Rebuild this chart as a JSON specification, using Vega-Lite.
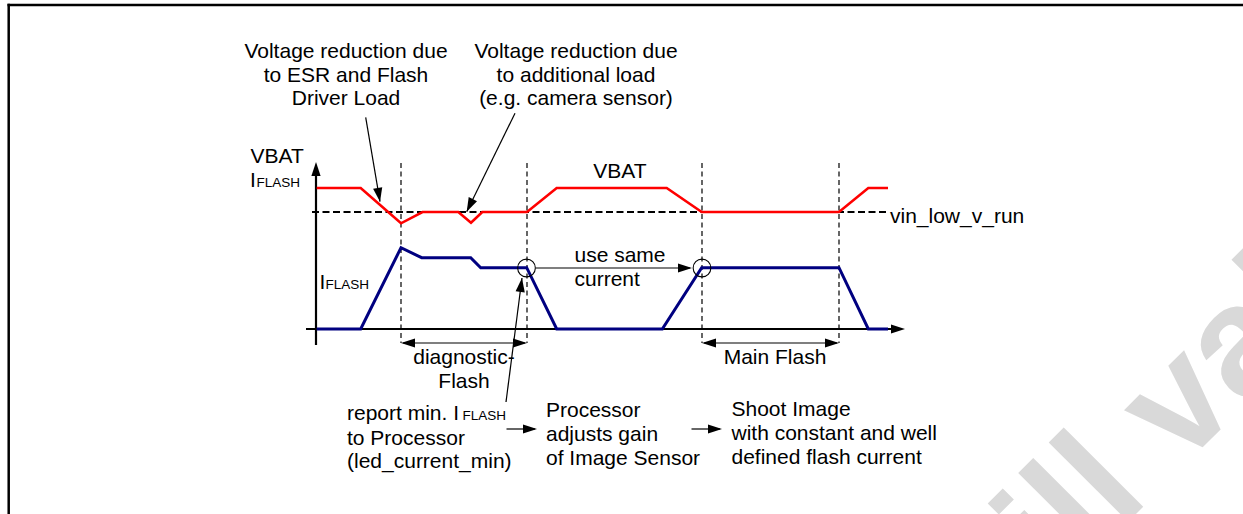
{
  "$schema": "https://vega.github.io/schema/vega-lite/v6.json",
  "width": 1243,
  "height": 514,
  "autosize": {"type": "fit", "contains": "padding"},
  "padding": 0,
  "background": "white",
  "config": {"view": {"stroke": null, "fill": null}},
  "datasets": {
    "frame": [
      {"x": 8.7, "y": 3.8, "x2": 8.7, "y2": 514},
      {"x": 7.5, "y": 5, "x2": 1243, "y2": 5}
    ],
    "paths": [
      {"g": "axis", "s": "ya", "i": 0, "x": 316, "y": 345},
      {"g": "axis", "s": "ya", "i": 1, "x": 316, "y": 170},
      {"g": "axis", "s": "xa", "i": 0, "x": 306, "y": 329},
      {"g": "axis", "s": "xa", "i": 1, "x": 897, "y": 329},
      {"g": "thin", "s": "a1", "i": 0, "x": 365.7, "y": 117.3},
      {"g": "thin", "s": "a1", "i": 1, "x": 380, "y": 201.7},
      {"g": "thin", "s": "a2", "i": 0, "x": 515, "y": 113.3},
      {"g": "thin", "s": "a2", "i": 1, "x": 466.7, "y": 211.7},
      {"g": "thin", "s": "a3", "i": 0, "x": 506, "y": 402},
      {"g": "thin", "s": "a3", "i": 1, "x": 522, "y": 278},
      {"g": "thin", "s": "us", "i": 0, "x": 536, "y": 268},
      {"g": "thin", "s": "us", "i": 1, "x": 690, "y": 268},
      {"g": "thin", "s": "df", "i": 0, "x": 403, "y": 343},
      {"g": "thin", "s": "df", "i": 1, "x": 525, "y": 343},
      {"g": "thin", "s": "mf", "i": 0, "x": 704, "y": 343},
      {"g": "thin", "s": "mf", "i": 1, "x": 837, "y": 343},
      {"g": "thin", "s": "p1", "i": 0, "x": 506.5, "y": 429},
      {"g": "thin", "s": "p1", "i": 1, "x": 535, "y": 429},
      {"g": "thin", "s": "p2", "i": 0, "x": 691.5, "y": 429},
      {"g": "thin", "s": "p2", "i": 1, "x": 720, "y": 429},
      {"g": "dashH", "s": "vin", "i": 0, "x": 312, "y": 212},
      {"g": "dashH", "s": "vin", "i": 1, "x": 888, "y": 212},
      {"g": "dashV", "s": "v1", "i": 0, "x": 401, "y": 163},
      {"g": "dashV", "s": "v1", "i": 1, "x": 401, "y": 343},
      {"g": "dashV", "s": "v2", "i": 0, "x": 527, "y": 163},
      {"g": "dashV", "s": "v2", "i": 1, "x": 527, "y": 343},
      {"g": "dashV", "s": "v3", "i": 0, "x": 702, "y": 163},
      {"g": "dashV", "s": "v3", "i": 1, "x": 702, "y": 343},
      {"g": "dashV", "s": "v4", "i": 0, "x": 839, "y": 163},
      {"g": "dashV", "s": "v4", "i": 1, "x": 839, "y": 343},
      {"g": "red", "s": "vbat", "i": 0, "x": 316.7, "y": 188},
      {"g": "red", "s": "vbat", "i": 1, "x": 360.7, "y": 188},
      {"g": "red", "s": "vbat", "i": 2, "x": 401, "y": 223.3},
      {"g": "red", "s": "vbat", "i": 3, "x": 422.5, "y": 212},
      {"g": "red", "s": "vbat", "i": 4, "x": 458.3, "y": 212},
      {"g": "red", "s": "vbat", "i": 5, "x": 471, "y": 222.7},
      {"g": "red", "s": "vbat", "i": 6, "x": 482.3, "y": 212},
      {"g": "red", "s": "vbat", "i": 7, "x": 527, "y": 212},
      {"g": "red", "s": "vbat", "i": 8, "x": 556.7, "y": 188},
      {"g": "red", "s": "vbat", "i": 9, "x": 666.7, "y": 188},
      {"g": "red", "s": "vbat", "i": 10, "x": 701.7, "y": 212},
      {"g": "red", "s": "vbat", "i": 11, "x": 839, "y": 212},
      {"g": "red", "s": "vbat", "i": 12, "x": 868.3, "y": 188},
      {"g": "red", "s": "vbat", "i": 13, "x": 888, "y": 188},
      {"g": "blue", "s": "iflash", "i": 0, "x": 316.7, "y": 329},
      {"g": "blue", "s": "iflash", "i": 1, "x": 360.7, "y": 329},
      {"g": "blue", "s": "iflash", "i": 2, "x": 401, "y": 247.7},
      {"g": "blue", "s": "iflash", "i": 3, "x": 421.7, "y": 257.7},
      {"g": "blue", "s": "iflash", "i": 4, "x": 470.7, "y": 257.7},
      {"g": "blue", "s": "iflash", "i": 5, "x": 480.7, "y": 267.7},
      {"g": "blue", "s": "iflash", "i": 6, "x": 526.7, "y": 267.7},
      {"g": "blue", "s": "iflash", "i": 7, "x": 556.7, "y": 329},
      {"g": "blue", "s": "iflash", "i": 8, "x": 662.3, "y": 329},
      {"g": "blue", "s": "iflash", "i": 9, "x": 701.7, "y": 267.7},
      {"g": "blue", "s": "iflash", "i": 10, "x": 839, "y": 267.7},
      {"g": "blue", "s": "iflash", "i": 11, "x": 868.3, "y": 329},
      {"g": "blue", "s": "iflash", "i": 12, "x": 888, "y": 329}
    ],
    "heads": [
      {"x": 316, "y": 162, "dir": 0},
      {"x": 905, "y": 329, "dir": 90},
      {"x": 380, "y": 201.7, "dir": 170.4},
      {"x": 466.7, "y": 211.7, "dir": 206.1},
      {"x": 522, "y": 278, "dir": 7.4},
      {"x": 692, "y": 268, "dir": 90},
      {"x": 401, "y": 343, "dir": 270},
      {"x": 527, "y": 343, "dir": 90},
      {"x": 702, "y": 343, "dir": 270},
      {"x": 839, "y": 343, "dir": 90},
      {"x": 537, "y": 429, "dir": 90},
      {"x": 722, "y": 429, "dir": 90}
    ],
    "circles": [
      {"x": 526.5, "y": 268},
      {"x": 702, "y": 268}
    ],
    "texts": [
      {"k": "c", "t": "Voltage reduction due", "x": 346, "y": 58},
      {"k": "c", "t": "to ESR and Flash", "x": 346, "y": 81.5},
      {"k": "c", "t": "Driver Load", "x": 346, "y": 105},
      {"k": "c", "t": "Voltage reduction due", "x": 576, "y": 58},
      {"k": "c", "t": "to additional load", "x": 576, "y": 81.5},
      {"k": "c", "t": "(e.g. camera sensor)", "x": 576, "y": 105},
      {"k": "c", "t": "VBAT", "x": 620, "y": 177.7},
      {"k": "c", "t": "diagnostic-", "x": 464, "y": 364.3},
      {"k": "c", "t": "Flash", "x": 464, "y": 388.3},
      {"k": "c", "t": "Main Flash", "x": 775, "y": 364},
      {"k": "l", "t": "VBAT", "x": 250.5, "y": 162.7},
      {"k": "l", "t": "I", "x": 250, "y": 187},
      {"k": "s", "t": "FLASH", "x": 256.5, "y": 187},
      {"k": "l", "t": "I", "x": 319.5, "y": 288.5},
      {"k": "s", "t": "FLASH", "x": 325.5, "y": 288.5},
      {"k": "l", "t": "use same", "x": 574.5, "y": 262},
      {"k": "l", "t": "current", "x": 574.5, "y": 286},
      {"k": "l", "t": "vin_low_v_run", "x": 890, "y": 222.5},
      {"k": "l", "t": "report min. I", "x": 347, "y": 420},
      {"k": "s", "t": "FLASH", "x": 462.5, "y": 420},
      {"k": "l", "t": "to Processor", "x": 347, "y": 445},
      {"k": "l", "t": "(led_current_min)", "x": 347, "y": 468},
      {"k": "l", "t": "Processor", "x": 546, "y": 417.3},
      {"k": "l", "t": "adjusts gain", "x": 546, "y": 440.7},
      {"k": "l", "t": "of Image Sensor", "x": 546, "y": 465},
      {"k": "l", "t": "Shoot Image", "x": 731.5, "y": 416},
      {"k": "l", "t": "with constant and well", "x": 731.5, "y": 440},
      {"k": "l", "t": "defined flash current", "x": 731.5, "y": 464}
    ],
    "wm": [
      {"t": "Still valid", "x": 950, "y": 700}
    ]
  },
  "encoding": {
    "x": {"field": "x", "type": "quantitative", "scale": {"domain": [0, 1243], "nice": false, "zero": false}, "axis": null},
    "y": {"field": "y", "type": "quantitative", "scale": {"domain": [0, 514], "nice": false, "zero": false, "reverse": true}, "axis": null}
  },
  "layer": [
    {
      "data": {"name": "wm"},
      "mark": {"type": "text", "font": "Liberation Sans", "fontWeight": "bold", "fontSize": 155, "angle": 315, "align": "left", "baseline": "alphabetic", "color": "#d9d9d9", "clip": true},
      "encoding": {"text": {"field": "t"}}
    },
    {
      "data": {"name": "frame"},
      "mark": {"type": "rule", "color": "black", "strokeWidth": 2.5, "clip": true},
      "encoding": {"x2": {"field": "x2"}, "y2": {"field": "y2"}}
    },
    {
      "data": {"name": "paths"},
      "transform": [{"filter": {"field": "g", "equal": "axis"}}],
      "mark": {"type": "line", "color": "black", "strokeWidth": 2.2},
      "encoding": {"detail": {"field": "s"}, "order": {"field": "i", "type": "quantitative"}}
    },
    {
      "data": {"name": "paths"},
      "transform": [{"filter": {"field": "g", "equal": "thin"}}],
      "mark": {"type": "line", "color": "black", "strokeWidth": 1.2},
      "encoding": {"detail": {"field": "s"}, "order": {"field": "i", "type": "quantitative"}}
    },
    {
      "data": {"name": "paths"},
      "transform": [{"filter": {"field": "g", "equal": "dashH"}}],
      "mark": {"type": "line", "color": "black", "strokeWidth": 1.8, "strokeDash": [7, 3.5]},
      "encoding": {"detail": {"field": "s"}, "order": {"field": "i", "type": "quantitative"}}
    },
    {
      "data": {"name": "paths"},
      "transform": [{"filter": {"field": "g", "equal": "dashV"}}],
      "mark": {"type": "line", "color": "black", "strokeWidth": 1.2, "strokeDash": [5, 3.5]},
      "encoding": {"detail": {"field": "s"}, "order": {"field": "i", "type": "quantitative"}}
    },
    {
      "data": {"name": "paths"},
      "transform": [{"filter": {"field": "g", "equal": "red"}}],
      "mark": {"type": "line", "color": "#ff0000", "strokeWidth": 2.6},
      "encoding": {"detail": {"field": "s"}, "order": {"field": "i", "type": "quantitative"}}
    },
    {
      "data": {"name": "paths"},
      "transform": [{"filter": {"field": "g", "equal": "blue"}}],
      "mark": {"type": "line", "color": "#000080", "strokeWidth": 3},
      "encoding": {"detail": {"field": "s"}, "order": {"field": "i", "type": "quantitative"}}
    },
    {
      "data": {"name": "circles"},
      "mark": {"type": "point", "shape": "circle", "size": 314, "filled": false, "color": "black", "strokeWidth": 1.1, "opacity": 1}
    },
    {
      "data": {"name": "heads"},
      "mark": {"type": "point", "shape": "M0,0L-0.33,1L0.33,1Z", "size": 784, "filled": true, "color": "black", "opacity": 1, "strokeWidth": 0},
      "encoding": {"angle": {"field": "dir", "type": "quantitative", "scale": null}}
    },
    {
      "data": {"name": "texts"},
      "transform": [{"filter": {"field": "k", "equal": "c"}}],
      "mark": {"type": "text", "font": "Liberation Sans", "fontSize": 21, "align": "center", "baseline": "alphabetic", "color": "black"},
      "encoding": {"text": {"field": "t"}}
    },
    {
      "data": {"name": "texts"},
      "transform": [{"filter": {"field": "k", "equal": "l"}}],
      "mark": {"type": "text", "font": "Liberation Sans", "fontSize": 21, "align": "left", "baseline": "alphabetic", "color": "black"},
      "encoding": {"text": {"field": "t"}}
    },
    {
      "data": {"name": "texts"},
      "transform": [{"filter": {"field": "k", "equal": "s"}}],
      "mark": {"type": "text", "font": "Liberation Sans", "fontSize": 13.5, "align": "left", "baseline": "alphabetic", "color": "black"},
      "encoding": {"text": {"field": "t"}}
    }
  ]
}
